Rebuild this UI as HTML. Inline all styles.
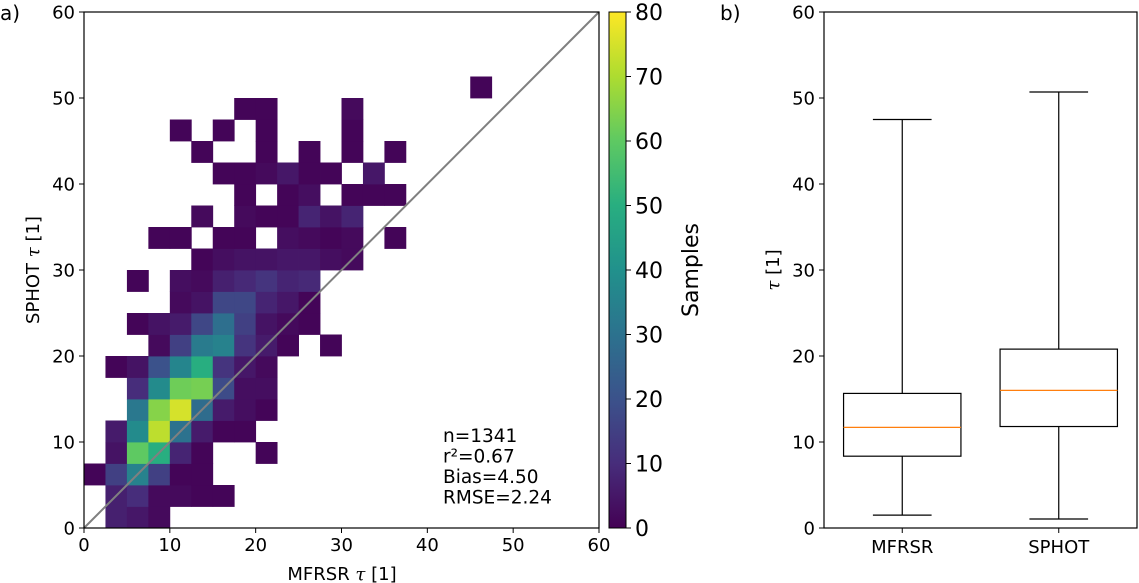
<!DOCTYPE html>
<html><head><meta charset="utf-8"><style>
body{margin:0;background:#fff}
svg{display:block;font-family:"DejaVu Sans","Liberation Sans",sans-serif}
</style></head><body>
<svg id="chart" width="1139" height="583" viewBox="0 0 1139 583">
<defs><linearGradient id="vir" x1="0" y1="1" x2="0" y2="0">
<stop offset="0" stop-color="#440154"/><stop offset="0.125" stop-color="#472d7b"/><stop offset="0.25" stop-color="#3b528b"/><stop offset="0.375" stop-color="#2c728e"/><stop offset="0.5" stop-color="#21918c"/><stop offset="0.625" stop-color="#28ae80"/><stop offset="0.75" stop-color="#5ec962"/><stop offset="0.875" stop-color="#addc30"/><stop offset="1" stop-color="#fde725"/></linearGradient></defs>
<g id="hm"></g>
<g id="axA"></g>
<g id="cb"></g>
<g id="bx"></g>
</svg>
<script>
// heatmap cells: [col, row, count], bins of 2.5 tau
const binSize = 2.5;
const cells = [
[1,0,7],[2,0,5],[3,0,2],
[1,1,7],[2,1,10],[3,1,2],[4,1,2],[5,1,1],[6,1,1],
[0,2,1],[1,2,15],[2,2,35],[3,2,15],[4,2,1],[5,2,1],
[1,3,4],[2,3,60],[3,3,50],[4,3,8],[5,3,1],[8,3,1],
[1,4,6],[2,4,38],[3,4,72],[4,4,30],[5,4,6],[6,4,1],[7,4,1],
[2,5,32],[3,5,65],[4,5,75],[5,5,28],[6,5,6],[7,5,3],[8,5,1],
[2,6,10],[3,6,38],[4,6,62],[5,6,63],[6,6,18],[7,6,3],[8,6,3],
[1,7,1],[2,7,4],[3,7,20],[4,7,36],[5,7,50],[6,7,12],[7,7,5],[8,7,2],
[3,8,2],[4,8,15],[5,8,33],[6,8,35],[7,8,12],[8,8,6],[9,8,1],[11,8,1],
[2,9,1],[3,9,4],[4,9,6],[5,9,17],[6,9,29],[7,9,15],[8,9,4],[9,9,2],[10,9,1],
[4,10,2],[5,10,4],[6,10,17],[7,10,17],[8,10,8],[9,10,5],[10,10,1],
[2,11,1],[4,11,3],[5,11,2],[6,11,7],[7,11,9],[8,11,12],[9,11,8],[10,11,9],
[5,12,1],[6,12,3],[7,12,4],[8,12,4],[9,12,5],[10,12,5],[11,12,3],[12,12,2],
[3,13,1],[4,13,1],[6,13,1],[7,13,1],[9,13,3],[10,13,2],[11,13,1],[12,13,2],[14,13,1],
[5,14,2],[7,14,2],[8,14,1],[9,14,1],[10,14,8],[11,14,4],[12,14,8],
[7,15,1],[9,15,1],[10,15,3],[12,15,1],[13,15,1],[14,15,1],
[6,16,1],[7,16,1],[8,16,2],[9,16,5],[10,16,1],[11,16,1],[13,16,5],
[5,17,1],[8,17,1],[10,17,1],[12,17,1],[14,17,1],
[4,18,1],[6,18,1],[8,18,1],[12,18,1],
[7,19,1],[8,19,1],[12,19,2],
[18,20,1]
];
const axisTicks = [0,10,20,30,40,50,60];
const cbTicks = [0,10,20,30,40,50,60,70,80];
const statsText = ["n=1341","r\u00b2=0.67","Bias=4.50","RMSE=2.24"];
const boxNames = ["MFRSR","SPHOT"];
const boxLow = [1.5,1.05];
const boxQ1 = [8.35,11.8];
const boxMed = [11.7,16.0];
const boxQ3 = [15.65,20.8];
const boxHigh = [47.5,50.7];

const NS="http://www.w3.org/2000/svg";
function mk(parent,tag,attrs,text){const e=document.createElementNS(NS,tag);for(const k in attrs)e.setAttribute(k,attrs[k]);if(text!==undefined)e.textContent=text;parent.appendChild(e);return e;}
function mkTau(parent,attrs,pre,post){const e=mk(parent,'text',attrs);if(pre)mk(e,'tspan',{},pre);mk(e,'tspan',{'font-style':'italic','font-family':'"DejaVu Serif",serif'},'\u03c4');mk(e,'tspan',{},post);return e;}
const VIR=[[68,1,84],[71,45,123],[59,82,139],[44,114,142],[33,145,140],[40,174,128],[94,201,98],[173,220,48],[253,231,37]];
function vir(t){t=Math.max(0,Math.min(1,t))*8;const i=Math.min(7,Math.floor(t)),f=t-i;const a=VIR[i],b=VIR[i+1];return`rgb(${a.map((v,k)=>Math.round(v+(b[k]-v)*f)).join(",")})`;}

const AX={l:84,r:599,t:12,b:528};
const xs=v=>AX.l+(AX.r-AX.l)*v/60, ys=v=>AX.b-(AX.b-AX.t)*v/60;
const hm=document.getElementById('hm');
cells.forEach(c=>{
 const x0=xs(c[0]*binSize),x1=xs((c[0]+1)*binSize),y0=ys((c[1]+1)*binSize),y1=ys(c[1]*binSize);
 const r=mk(hm,'rect',{x:x0,y:y0,width:x1-x0+0.4,height:y1-y0+0.4,fill:vir(c[2]/80)});
 
 
});
const A=document.getElementById('axA');
const l1=mk(A,'line',{x1:xs(0),y1:ys(0),x2:xs(60),y2:ys(60),stroke:'#808080','stroke-width':2});

const fr=mk(A,'rect',{x:AX.l,y:AX.t,width:AX.r-AX.l,height:AX.b-AX.t,fill:'none',stroke:'#000','stroke-width':1.2});

axisTicks.forEach(v=>{
 mk(A,'line',{x1:xs(v),x2:xs(v),y1:AX.b,y2:AX.b+5,stroke:'#000'});
 const tx=mk(A,'text',{x:xs(v),y:AX.b+23,'font-size':18,'text-anchor':'middle'},v);
 
 mk(A,'line',{x1:AX.l-5,x2:AX.l,y1:ys(v),y2:ys(v),stroke:'#000'});
 const ty=mk(A,'text',{x:AX.l-9,y:ys(v)+6.5,'font-size':18,'text-anchor':'end'},v);
 
});
let t=mkTau(A,{x:342,y:580,'font-size':18,'text-anchor':'middle'},'MFRSR ',' [1]');

t=mkTau(A,{x:39,y:270,'font-size':18,'text-anchor':'middle',transform:'rotate(-90 39 270)'},'SPHOT ',' [1]');

t=mk(A,'text',{x:0,y:20,'font-size':20},'a)');

statsText.forEach((s,i)=>{const e=mk(A,'text',{x:443,y:442+i*20.5,'font-size':18.5},s);
 });

const CB={l:609,r:626,t:12,b:528};
const cb=document.getElementById('cb');
mk(cb,'rect',{x:CB.l,y:CB.t,width:CB.r-CB.l,height:CB.b-CB.t,fill:'url(#vir)',stroke:'#000','stroke-width':1});
cbTicks.forEach(v=>{const y=CB.b-(CB.b-CB.t)*v/80;
 mk(cb,'line',{x1:CB.r,x2:CB.r+5,y1:y,y2:y,stroke:'#000'});
 const e=mk(cb,'text',{x:CB.r+9,y:y+8,'font-size':22},v);
 });
t=mk(cb,'text',{x:698,y:270,'font-size':22,'text-anchor':'middle',transform:'rotate(-90 698 270)'},'Samples');


const BX={l:824,r:1137,t:12,b:528};
const bxX=p=>BX.l+(BX.r-BX.l)*(p-0.5)/2, byS=v=>BX.b-(BX.b-BX.t)*v/60;
const bx=document.getElementById('bx');
mk(bx,'rect',{x:BX.l,y:BX.t,width:BX.r-BX.l,height:BX.b-BX.t,fill:'none',stroke:'#000','stroke-width':1.2});
axisTicks.forEach(v=>{
 mk(bx,'line',{x1:BX.l-5,x2:BX.l,y1:byS(v),y2:byS(v),stroke:'#000'});
 const e=mk(bx,'text',{x:BX.l-9,y:byS(v)+6.5,'font-size':18,'text-anchor':'end'},v);
 });
boxNames.forEach((n,i)=>{
 const c=bxX(i+1),hw=(BX.r-BX.l)/2*0.375,cw=hw/2;
 const g=mk(bx,'g',{});
 
 mk(g,'line',{x1:c,x2:c,y1:byS(boxHigh[i]),y2:byS(boxQ3[i]),stroke:'#000','stroke-width':1.2});
 mk(g,'line',{x1:c,x2:c,y1:byS(boxQ1[i]),y2:byS(boxLow[i]),stroke:'#000','stroke-width':1.2});
 mk(g,'line',{x1:c-cw,x2:c+cw,y1:byS(boxHigh[i]),y2:byS(boxHigh[i]),stroke:'#000','stroke-width':1.2});
 mk(g,'line',{x1:c-cw,x2:c+cw,y1:byS(boxLow[i]),y2:byS(boxLow[i]),stroke:'#000','stroke-width':1.2});
 mk(g,'rect',{x:c-hw,y:byS(boxQ3[i]),width:2*hw,height:byS(boxQ1[i])-byS(boxQ3[i]),fill:'none',stroke:'#000','stroke-width':1.2});
 mk(g,'line',{x1:c-hw,x2:c+hw,y1:byS(boxMed[i]),y2:byS(boxMed[i]),stroke:'#ff7f0e','stroke-width':1.2});
 mk(bx,'line',{x1:c,x2:c,y1:BX.b,y2:BX.b+5,stroke:'#000'});
 const e=mk(bx,'text',{x:c,y:BX.b+25,'font-size':18,'text-anchor':'middle'},n);
 
});
t=mkTau(bx,{x:779,y:270,'font-size':18,'text-anchor':'middle',transform:'rotate(-90 779 270)'},'',' [1]');

t=mk(bx,'text',{x:720,y:20,'font-size':20},'b)');

</script>
</body></html>
